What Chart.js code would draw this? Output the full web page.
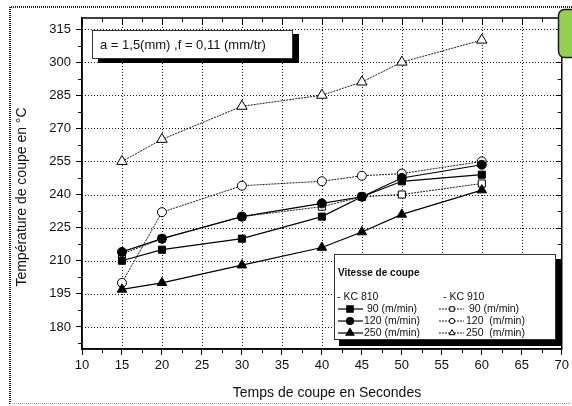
<!DOCTYPE html>
<html>
<head>
<meta charset="utf-8">
<script src="https://cdn.jsdelivr.net/npm/chart.js@4.4.1/dist/chart.umd.min.js"></script>
<style>
  html, body { margin: 0; padding: 0; background: #fff; }
  #chart { display: block; }
</style>
</head>
<body>
<canvas id="chart" width="572" height="406"></canvas>
<script>
// Time values (s) and tick labels
const times = [15, 20, 30, 40, 45, 50, 60];
const xTicks = [10, 15, 20, 25, 30, 35, 40, 45, 50, 55, 60, 65, 70];
const yTicks = [180, 195, 210, 225, 240, 255, 270, 285, 300, 315];

// KC 810 (solid lines, filled markers)
const kc810_90 = [210, 215, 220, 230, 239, 246, 249];
const kc810_120 = [214, 220, 230, 236, 239, 247.5, 253.5];
const kc810_250 = [197, 200, 208, 216, 223, 231, 242];

// KC 910 (dotted lines, open markers)
const kc910_90 = [213, 220, 230, 234.5, 239, 240, 245];
const kc910_120 = [200, 232, 244, 246, 248.5, 249.5, 255];
const kc910_250 = [255, 265, 280, 285, 291, 300, 310];

const FONT = "'Liberation Sans', Arial, sans-serif";
Chart.defaults.font.family = FONT;
Chart.defaults.color = '#111';

const toPoints = (vals) => times.map((t, i) => ({ x: t, y: vals[i] }));

const series = (vals, style, radius, filled) => ({
    data: toPoints(vals),
    borderColor: '#000',
    borderWidth: filled ? 1.2 : 0.9,
    borderDash: filled ? [] : [2, 1],
    pointStyle: style,
    pointRadius: radius,
    pointBackgroundColor: filled ? '#000' : '#fff',
    pointBorderColor: '#000',
    pointBorderWidth: 1,
    tension: 0
});

// dotted grid under the data
const dottedGrid = {
    id: 'dottedGrid',
    beforeDatasetsDraw(chart) {
        const { ctx, chartArea: a, scales: { x, y } } = chart;
        ctx.save();
        ctx.strokeStyle = '#111';
        ctx.lineWidth = 1;
        ctx.setLineDash([1, 2]);
        ctx.beginPath();
        xTicks.slice(1, -1).forEach(v => {
            const px = Math.round(x.getPixelForValue(v)) + 0.5;
            ctx.moveTo(px, a.top); ctx.lineTo(px, a.bottom);
        });
        yTicks.forEach(v => {
            const py = Math.round(y.getPixelForValue(v)) + 0.5;
            ctx.moveTo(a.left, py); ctx.lineTo(a.right, py);
        });
        ctx.stroke();
        ctx.restore();
    }
};

// frame, minor ticks, boxes and titles
const decorations = {
    id: 'decorations',
    afterDraw(chart) {
        const { ctx, chartArea: a, scales: { x, y } } = chart;
        ctx.save();

        // frame
        ctx.strokeStyle = '#000';
        ctx.lineWidth = 1.5;
        ctx.strokeRect(a.left, a.top, a.right - a.left, a.bottom - a.top);

        // ticks on all four sides
        ctx.lineWidth = 1;
        ctx.beginPath();
        for (let v = 10; v <= 70; v += 2.5) {
            const px = Math.round(x.getPixelForValue(v)) + 0.5;
            const major = v % 5 === 0;
            if (!major) {
                ctx.moveTo(px, a.bottom); ctx.lineTo(px, a.bottom + 4);
            }
            ctx.moveTo(px, a.top); ctx.lineTo(px, a.top + (major ? 7 : 4));
        }
        for (let v = 172.5; v <= 320; v += 7.5) {
            const py = Math.round(y.getPixelForValue(v)) + 0.5;
            const major = yTicks.includes(v);
            if (!major) {
                ctx.moveTo(a.left, py); ctx.lineTo(a.left - 4, py);
            }
            ctx.moveTo(a.right, py); ctx.lineTo(a.right - (major ? 6 : 4), py);
        }
        ctx.stroke();

        // parameter box
        ctx.fillStyle = '#000';
        ctx.fillRect(98, 34, 201, 29);
        ctx.fillStyle = '#fff';
        ctx.fillRect(92, 30, 201, 29);
        ctx.strokeStyle = '#333';
        ctx.strokeRect(92.5, 30.5, 200, 28);
        ctx.fillStyle = '#111';
        ctx.font = '13px ' + FONT;
        ctx.textBaseline = 'middle';
        ctx.fillText('a = 1,5(mm) ,f = 0,11 (mm/tr)', 100, 45);

        // legend box
        ctx.fillStyle = '#000';
        ctx.fillRect(339, 259, 223, 87);
        ctx.fillStyle = '#fff';
        ctx.fillRect(334, 254, 222, 86);
        ctx.strokeStyle = '#333';
        ctx.strokeRect(334.5, 254.5, 221, 85);

        ctx.fillStyle = '#111';
        ctx.font = 'bold 10px ' + FONT;
        ctx.fillText('Vitesse de coupe', 338, 273);
        ctx.font = '10.5px ' + FONT;
        ctx.fillText('- KC 810', 337, 297);
        ctx.fillText('- KC 910', 443, 297);

        const rowsY = [309, 321, 333];
        const left = [
            ['rect', 4.5, ' 90 (m/min)'],
            ['circle', 3.5, '120 (m/min)'],
            ['triangle', 4.5, '250 (m/min)']
        ];
        const right = [
            ['rect', 3.2, ' 90 (m/min)'],
            ['circle', 2.6, '120  (m/min)'],
            ['triangle', 3.4, '250  (m/min)']
        ];
        rowsY.forEach((ry, i) => {
            // KC 810 sample
            ctx.strokeStyle = '#000';
            ctx.lineWidth = 1.2;
            ctx.setLineDash([]);
            ctx.beginPath(); ctx.moveTo(338, ry); ctx.lineTo(363, ry); ctx.stroke();
            ctx.fillStyle = '#000';
            Chart.helpers.drawPoint(ctx, { pointStyle: left[i][0], radius: left[i][1], borderWidth: 1 }, 350, ry);
            ctx.fillStyle = '#111';
            ctx.fillText(left[i][2], 364, ry);

            // KC 910 sample
            ctx.lineWidth = 0.9;
            ctx.setLineDash([2, 1]);
            ctx.beginPath(); ctx.moveTo(439, ry); ctx.lineTo(464, ry); ctx.stroke();
            ctx.setLineDash([]);
            ctx.fillStyle = '#fff';
            ctx.lineWidth = 1;
            Chart.helpers.drawPoint(ctx, { pointStyle: right[i][0], radius: right[i][1], borderWidth: 1 }, 452, ry);
            ctx.fillStyle = '#111';
            ctx.fillText(right[i][2], 466, ry);
        });

        // axis titles
        ctx.font = '14px ' + FONT;
        ctx.textAlign = 'center';
        ctx.fillText('Temps de coupe en Secondes', 327, 393);
        ctx.save();
        ctx.translate(22, 197);
        ctx.rotate(-Math.PI / 2);
        ctx.fillText('Température de coupe en °C', 0, 0);
        ctx.restore();

        // green tab top right
        ctx.fillStyle = '#92d050';
        ctx.strokeStyle = '#1a1a1a';
        ctx.lineWidth = 1.5;
        ctx.beginPath();
        ctx.roundRect(558.5, 9.5, 30, 48, 6);
        ctx.fill();
        ctx.stroke();

        // outer dotted border
        ctx.setLineDash([1, 1]);
        ctx.strokeStyle = '#222';
        ctx.lineWidth = 2;
        ctx.beginPath();
        ctx.moveTo(10, 404); ctx.lineTo(10, 7); ctx.lineTo(572, 7);
        ctx.stroke();
        ctx.strokeStyle = '#999';
        ctx.lineWidth = 1;
        ctx.beginPath();
        ctx.moveTo(10, 403.5); ctx.lineTo(572, 403.5);
        ctx.stroke();

        ctx.restore();
    }
};

new Chart(document.getElementById('chart'), {
    type: 'line',
    data: {
        datasets: [
            series(kc810_90, 'rect', 5, true),
            series(kc810_120, 'circle', 4.5, true),
            series(kc810_250, 'triangle', 5.5, true),
            series(kc910_90, 'rect', 5, false),
            series(kc910_120, 'circle', 4.5, false),
            series(kc910_250, 'triangle', 6, false)
        ]
    },
    options: {
        responsive: false,
        animation: false,
        devicePixelRatio: 1,
        layout: { padding: { left: 0, right: 9, top: 18, bottom: 0 } },
        plugins: { legend: { display: false }, tooltip: { enabled: false } },
        scales: {
            x: {
                type: 'linear',
                min: 10,
                max: 70,
                afterBuildTicks: (s) => { s.ticks = xTicks.map(v => ({ value: v })); },
                afterFit: (s) => { s.height = 57; },
                ticks: { font: { size: 13 }, color: '#111', padding: 3, maxRotation: 0, autoSkip: false },
                grid: { drawOnChartArea: false, tickLength: 6, tickColor: '#000', tickWidth: 1 },
                border: { display: true, color: '#000', width: 1.5 }
            },
            y: {
                type: 'linear',
                min: 170,
                max: 320,
                afterBuildTicks: (s) => { s.ticks = yTicks.map(v => ({ value: v })); },
                afterFit: (s) => { s.width = 82; },
                ticks: { font: { size: 13 }, color: '#111', padding: 5 },
                grid: { drawOnChartArea: false, tickLength: 6, tickColor: '#000', tickWidth: 1 },
                border: { display: true, color: '#000', width: 1.5 }
            }
        }
    },
    plugins: [dottedGrid, decorations]
});
</script>
</body>
</html>
